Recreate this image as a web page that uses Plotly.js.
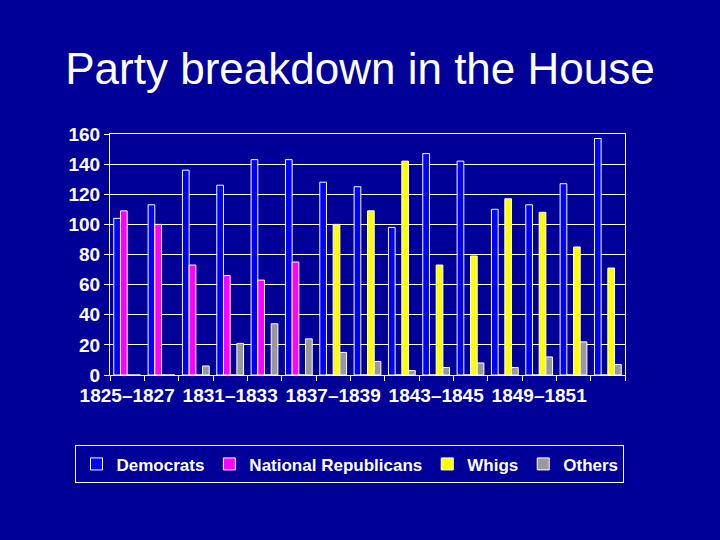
<!DOCTYPE html>
<html><head><meta charset="utf-8">
<script src="https://cdn.plot.ly/plotly-3.0.1.min.js"></script>
<style>html,body{margin:0;padding:0;background:#000099;}#chart{width:720px;height:540px;}</style>
</head><body><div id="chart"></div>
<script>
var congresses = ["1825–1827","1827–1829","1829–1831","1831–1833","1833–1835","1835–1837","1837–1839","1839–1841","1841–1843","1843–1845","1845–1847","1847–1849","1849–1851","1851–1853","1853–1855"];
var tickLabels = ["1825–1827","","","1831–1833","","","1837–1839","","","1843–1845","","","1849–1851","",""];
var democrats = [104,113,136,126,143,143,128,125,98,147,142,110,113,127,157];
var nationalRepublicans = [109,100,73,66,63,75,0,0,0,0,0,0,0,0,0];
var whigs = [0,0,0,0,0,0,100,109,142,73,79,117,108,85,71];
var others = [0,0,6,21,34,24,15,9,3,5,8,5,12,22,7];

var seriesNames = ["Democrats","National Republicans","Whigs","Others"];
var seriesColors = ["#0000FF","#FF00FF","#FFFF00","#999999"];
var seriesValues = [democrats, nationalRepublicans, whigs, others];

var traces = seriesNames.map(function(n,i){
  return {type:'bar', name:n, x:congresses, y:seriesValues[i],
    marker:{color:seriesColors[i], line:{color:'#FFFFFF', width:1}}};
});

var white = '#FFFFFF';
var fam = 'Arial, Liberation Sans, sans-serif';
var layout = {
  width:720, height:540,
  paper_bgcolor:'#000099', plot_bgcolor:'#000099',
  margin:{l:110, r:95, t:134, b:165},
  title:{text:'Party breakdown in the House', x:0.5, xanchor:'center', y:0.873, yanchor:'middle',
    font:{family:fam, size:44, color:white}},
  barmode:'group', bargap:0.22, bargroupgap:0,
  xaxis:{type:'category', tickmode:'array', tickvals:congresses, ticktext:tickLabels,
    tickson:'boundaries', ticks:'outside', ticklen:5, tickcolor:white,
    showline:true, linecolor:white, linewidth:1, mirror:true, showgrid:false,
    ticklabelstandoff:3,
    tickfont:{family:fam, size:19, color:white, weight:700},
    tickangle:0},
  yaxis:{range:[0,160], dtick:20, ticks:'outside', ticklen:5, tickcolor:white,
    showline:true, linecolor:white, linewidth:1, mirror:true,
    showgrid:true, gridcolor:white, gridwidth:1, zeroline:false,
    tickfont:{family:fam, size:19, color:white, weight:700}},
  legend:{orientation:'h', x:-0.067, xanchor:'left', y:-0.292, yanchor:'top',
    bgcolor:'#000099', bordercolor:white, borderwidth:1,
    font:{family:fam, size:17, color:white, weight:700},
    itemwidth:30, traceorder:'normal'},
  showlegend:true
};
Plotly.newPlot('chart', traces, layout, {staticPlot:true, displayModeBar:false});
</script>
</body></html>
